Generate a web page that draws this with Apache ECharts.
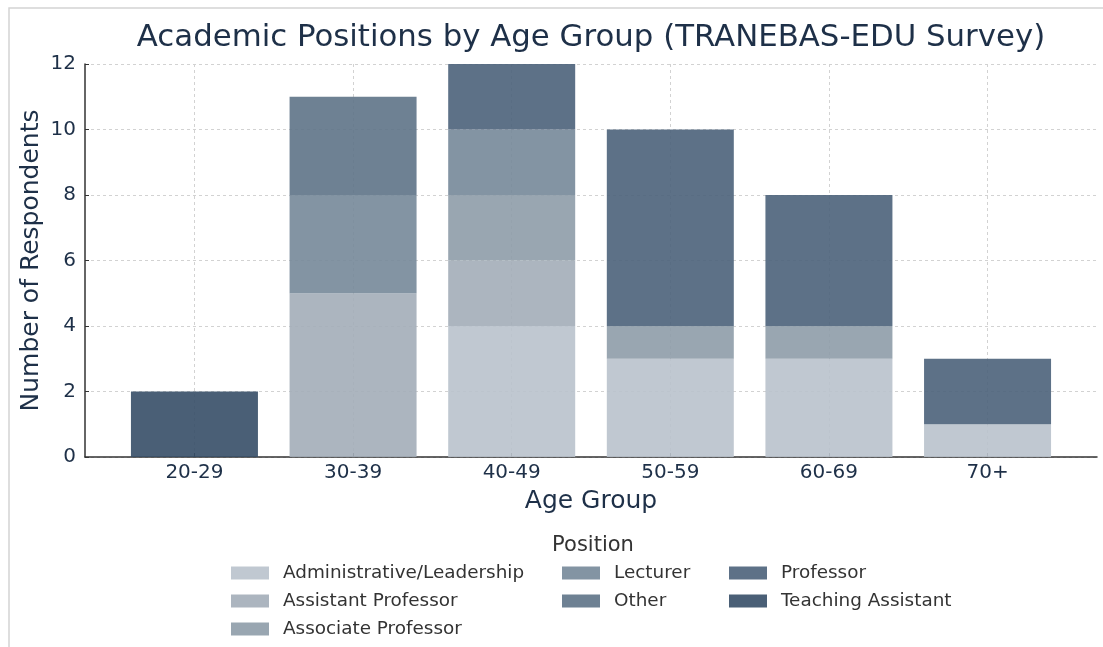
<!DOCTYPE html>
<html>
<head>
<meta charset="utf-8">
<title>Academic Positions by Age Group</title>
<script src="https://cdn.jsdelivr.net/npm/echarts@6/dist/echarts.min.js"></script>
<style>
  html, body { margin: 0; padding: 0; background: #ffffff; }
  #chart { width: 1103px; height: 647px; }
</style>
</head>
<body>
<div id="chart"></div>
<script>
// 数据
const ageGroups = ['20-29', '30-39', '40-49', '50-59', '60-69', '70+'];
const positions = [
  'Administrative/Leadership', 'Assistant Professor', 'Associate Professor',
  'Lecturer', 'Other', 'Professor', 'Teaching Assistant'
];
const adminLeadership    = [0, 0, 4, 3, 3, 1];
const assistantProfessor = [0, 5, 2, 0, 0, 0];
const associateProfessor = [0, 0, 2, 1, 1, 0];
const lecturer           = [0, 3, 2, 0, 0, 0];
const other              = [0, 3, 0, 0, 0, 0];
const professor          = [0, 0, 2, 6, 4, 2];
const teachingAssistant  = [2, 0, 0, 0, 0, 0];

const seriesValues = [
  adminLeadership, assistantProfessor, associateProfessor,
  lecturer, other, professor, teachingAssistant
];
const positionColors = ['#b9c2cc', '#a3adb8', '#8e9ca9', '#758899', '#5e7387', '#4b627a', '#364e67'];

// 图例分三列（与原图一致）
const legendColumns = [
  positions.slice(0, 3),
  positions.slice(3, 5),
  positions.slice(5, 7)
];
const legendLefts = [226, 557, 724];

const FONT = 'DejaVu Sans';
const TEXT_COLOR = '#1e3048';
const LEGEND_COLOR = '#333333';

let chart = null;

document.addEventListener('DOMContentLoaded', function() {
  initializeChart();
});

// 构建系列（值放在第 0 维，方便按 y 堆叠）
function buildSeries() {
  return positions.map((name, k) => ({
    name: name,
    type: 'bar',
    stack: 'total',
    barWidth: 127,
    encode: { x: 1, y: 0 },
    itemStyle: { color: positionColors[k], opacity: 0.9 },
    emphasis: { disabled: true },
    data: seriesValues[k].map((v, i) => [v, i])
  }));
}

// 构建图例
function buildLegends() {
  return legendColumns.map((names, c) => ({
    orient: 'vertical',
    left: legendLefts[c],
    top: 559,
    icon: 'rect',
    itemWidth: 38,
    itemHeight: 13,
    itemGap: 10,
    selectedMode: false,
    data: names,
    textStyle: {
      fontFamily: FONT,
      fontSize: 18.4,
      color: LEGEND_COLOR,
      padding: [0, 0, 0, 9]
    }
  }));
}

// 初始化图表
function initializeChart() {
  chart = echarts.init(document.getElementById('chart'), null, { renderer: 'canvas' });
  const tickIdx = ageGroups.map((_, i) => i);
  const splitStyle = { color: '#d2d2d2', type: [3, 3], width: 1 };

  const option = {
    backgroundColor: '#ffffff',
    animation: false,
    textStyle: { fontFamily: FONT },
    title: [
      {
        text: 'Academic Positions by Age Group (TRANEBAS-EDU Survey)',
        left: 586,
        top: 17,
        textAlign: 'center',
        textStyle: { fontFamily: FONT, fontSize: 30.8, fontWeight: 'normal', color: TEXT_COLOR }
      },
      {
        text: 'Position',
        left: 588,
        top: 530,
        textAlign: 'center',
        textStyle: { fontFamily: FONT, fontSize: 21, fontWeight: 'normal', color: LEGEND_COLOR }
      }
    ],
    legend: buildLegends(),
    grid: {
      left: 85,
      right: 6,
      top: 64,
      bottom: 190,
      outerBoundsMode: 'none'
    },
    xAxis: {
      type: 'value',
      min: -0.69,
      max: 5.69,
      name: 'Age Group',
      nameLocation: 'middle',
      nameGap: 32,
      nameMoveOverlap: false,
      nameTextStyle: { fontFamily: FONT, fontSize: 25, color: TEXT_COLOR },
      axisLine: { show: true, onZero: false, lineStyle: { color: '#333333', width: 1.5 } },
      axisTick: { show: true, inside: true, length: 4, customValues: tickIdx, lineStyle: { color: '#333333' } },
      axisLabel: {
        customValues: tickIdx,
        margin: 6,
        fontFamily: FONT,
        fontSize: 20,
        color: TEXT_COLOR,
        formatter: function(v) { return ageGroups[v]; }
      },
      splitLine: { show: true, lineStyle: splitStyle }
    },
    yAxis: {
      type: 'value',
      min: 0,
      max: 12,
      interval: 2,
      name: 'Number of Respondents',
      nameLocation: 'middle',
      nameGap: 41,
      nameMoveOverlap: false,
      nameTextStyle: { fontFamily: FONT, fontSize: 25, color: TEXT_COLOR },
      axisLine: { show: true, onZero: false, lineStyle: { color: '#333333', width: 1.5 } },
      axisTick: { show: true, inside: true, length: 4, lineStyle: { color: '#333333' } },
      axisLabel: { margin: 9, fontFamily: FONT, fontSize: 20, color: TEXT_COLOR },
      splitLine: { show: true, lineStyle: splitStyle }
    },
    // 外框
    graphic: [{
      type: 'rect',
      silent: true,
      shape: { x: 9, y: 8, width: 1200, height: 700 },
      style: { fill: 'none', stroke: '#d4d4d4', lineWidth: 1.5 }
    }],
    series: buildSeries()
  };

  chart.setOption(option);
}
</script>
</body>
</html>
